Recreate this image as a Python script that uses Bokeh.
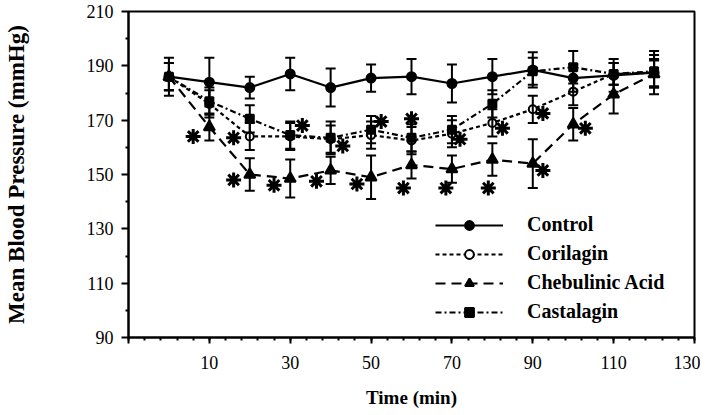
from bokeh.plotting import figure
from bokeh.models import (Range1d, FixedTicker, Whisker, TeeHead, ColumnDataSource,
                          Legend, LegendItem)
from bokeh.embed import file_html
from bokeh.resources import INLINE

# ---- data ----
time = [0, 10, 20, 30, 40, 50, 60, 70, 80, 90, 100, 110, 120]

control = [186, 184, 182, 187, 182, 185.5, 186, 183.5, 186, 188.5, 185.5, 186.5, 187.5]
control_err = [7, 9, 4, 6, 7, 5, 6.5, 7, 6.5, 6.5, 5, 6, 8]

corilagin = [186, 176, 164, 164, 163, 164.5, 162.5, 165, 169, 174, 180.5, 187, 187.5]
corilagin_err = [5, 5, 5, 5, 5, 5, 5, 5, 5, 5, 5, 4, 5]

chebulinic = [186, 167.5, 150, 148.5, 151.5, 149, 153.5, 152, 155.5, 154, 168.5, 179.5, 187]
chebulinic_err = [5, 5, 6, 7, 5, 8, 5, 5, 6, 9, 6, 7, 5]

castalagin = [186, 177, 170.5, 164.5, 163.5, 166.5, 163.5, 166.5, 176, 188, 189.5, 187, 188]
castalagin_err = [5, 5, 5, 5, 6, 5, 5, 5, 5, 5, 6, 4, 6]

# significance asterisks
star_x = [6, 16, 16, 26, 33, 36.5, 43, 46.5, 52.5, 58, 60, 68.5, 72, 79, 82.5, 92.5, 92.5, 103]
star_y = [164, 163.5, 148, 146, 168, 147.5, 160.5, 146.5, 169.5, 145, 170.5, 145, 163, 145, 167, 172.5, 151.5, 167]

series_names = ["Control", "Corilagin", "Chebulinic Acid", "Castalagin"]
x_tick_values = [-10, 10, 30, 50, 70, 90, 110, 130]
y_tick_values = [90, 110, 130, 150, 170, 190, 210]

FONT = "Liberation Serif"

p = figure(width=700, height=410, x_range=Range1d(-10, 130), y_range=Range1d(90, 210),
           output_backend="svg", toolbar_location=None,
           min_border_left=124, min_border_right=6, min_border_top=11, min_border_bottom=72)
p.xgrid.visible = False
p.ygrid.visible = False
p.outline_line_color = "black"
p.outline_line_width = 2
p.background_fill_color = "white"
p.border_fill_color = "white"

# axes
p.xaxis.ticker = FixedTicker(ticks=x_tick_values, minor_ticks=list(range(-10, 131, 4)))
p.xaxis.major_label_overrides = {-10: ""}
p.yaxis.ticker = FixedTicker(ticks=y_tick_values, minor_ticks=list(range(100, 210, 20)))
for ax in (p.xaxis[0], p.yaxis[0]):
    ax.axis_line_width = 2
    ax.axis_line_color = "black"
    ax.major_tick_line_width = 2
    ax.minor_tick_line_width = 2
    ax.major_tick_line_color = "black"
    ax.minor_tick_line_color = "black"
    ax.major_tick_in = 0
    ax.minor_tick_in = 0
    ax.major_label_text_font = FONT
    ax.major_label_text_font_size = "18px"
    ax.major_label_text_color = "black"
    ax.axis_label_text_font = FONT
    ax.axis_label_text_font_style = "bold"
    ax.axis_label_text_color = "black"
p.xaxis.major_tick_out = 6
p.xaxis.minor_tick_out = 3
p.yaxis.major_tick_out = 7
p.yaxis.minor_tick_out = 3
p.xaxis.major_label_standoff = 12
p.yaxis.major_label_standoff = 8
p.xaxis.axis_label = "Time (min)"
p.yaxis.axis_label = "Mean Blood Pressure (mmHg)"
p.xaxis.axis_label_text_font_size = "19px"
p.yaxis.axis_label_text_font_size = "23px"
p.xaxis.axis_label_standoff = 15
p.yaxis.axis_label_standoff = 55

styles = [
    dict(dash="solid", marker="circle", size=9, fill="black"),
    dict(dash="4 3", marker="circle", size=8, fill="white"),
    dict(dash="10 6", marker="triangle", size=11, fill="black"),
    dict(dash="6 3 2 3", marker="square", size=8, fill="black"),
]
values = [control, corilagin, chebulinic, castalagin]
errors = [control_err, corilagin_err, chebulinic_err, castalagin_err]

items = []
for name, vals, errs, st in zip(series_names, values, errors, styles):
    src = ColumnDataSource(dict(
        x=time, y=vals,
        upper=[v + e for v, e in zip(vals, errs)],
        lower=[v - e for v, e in zip(vals, errs)],
    ))
    w = Whisker(source=src, base="x", upper="upper", lower="lower",
                line_width=2, line_color="black", level="glyph",
                upper_head=TeeHead(size=10, line_width=2, line_color="black"),
                lower_head=TeeHead(size=10, line_width=2, line_color="black"))
    p.add_layout(w)
    lr = p.line("x", "y", source=src, line_width=2.2, line_color="black", line_dash=st["dash"])
    mr = p.scatter("x", "y", source=src, marker=st["marker"], size=st["size"],
                   fill_color=st["fill"], line_color="black", line_width=2)
    items.append(LegendItem(label=name, renderers=[lr, mr]))

p.scatter(star_x, star_y, marker="asterisk", size=15, line_width=3, line_color="black")

legend = Legend(items=items, location=(307, 14), orientation="vertical",
                glyph_width=68, glyph_height=22, label_height=22, spacing=6, label_standoff=24,
                padding=0, margin=0, border_line_color=None, background_fill_alpha=0,
                label_text_font=FONT, label_text_font_style="bold",
                label_text_font_size="20px", label_text_color="black")
p.add_layout(legend, "center")

open("out.html", "w").write(file_html(p, INLINE))
